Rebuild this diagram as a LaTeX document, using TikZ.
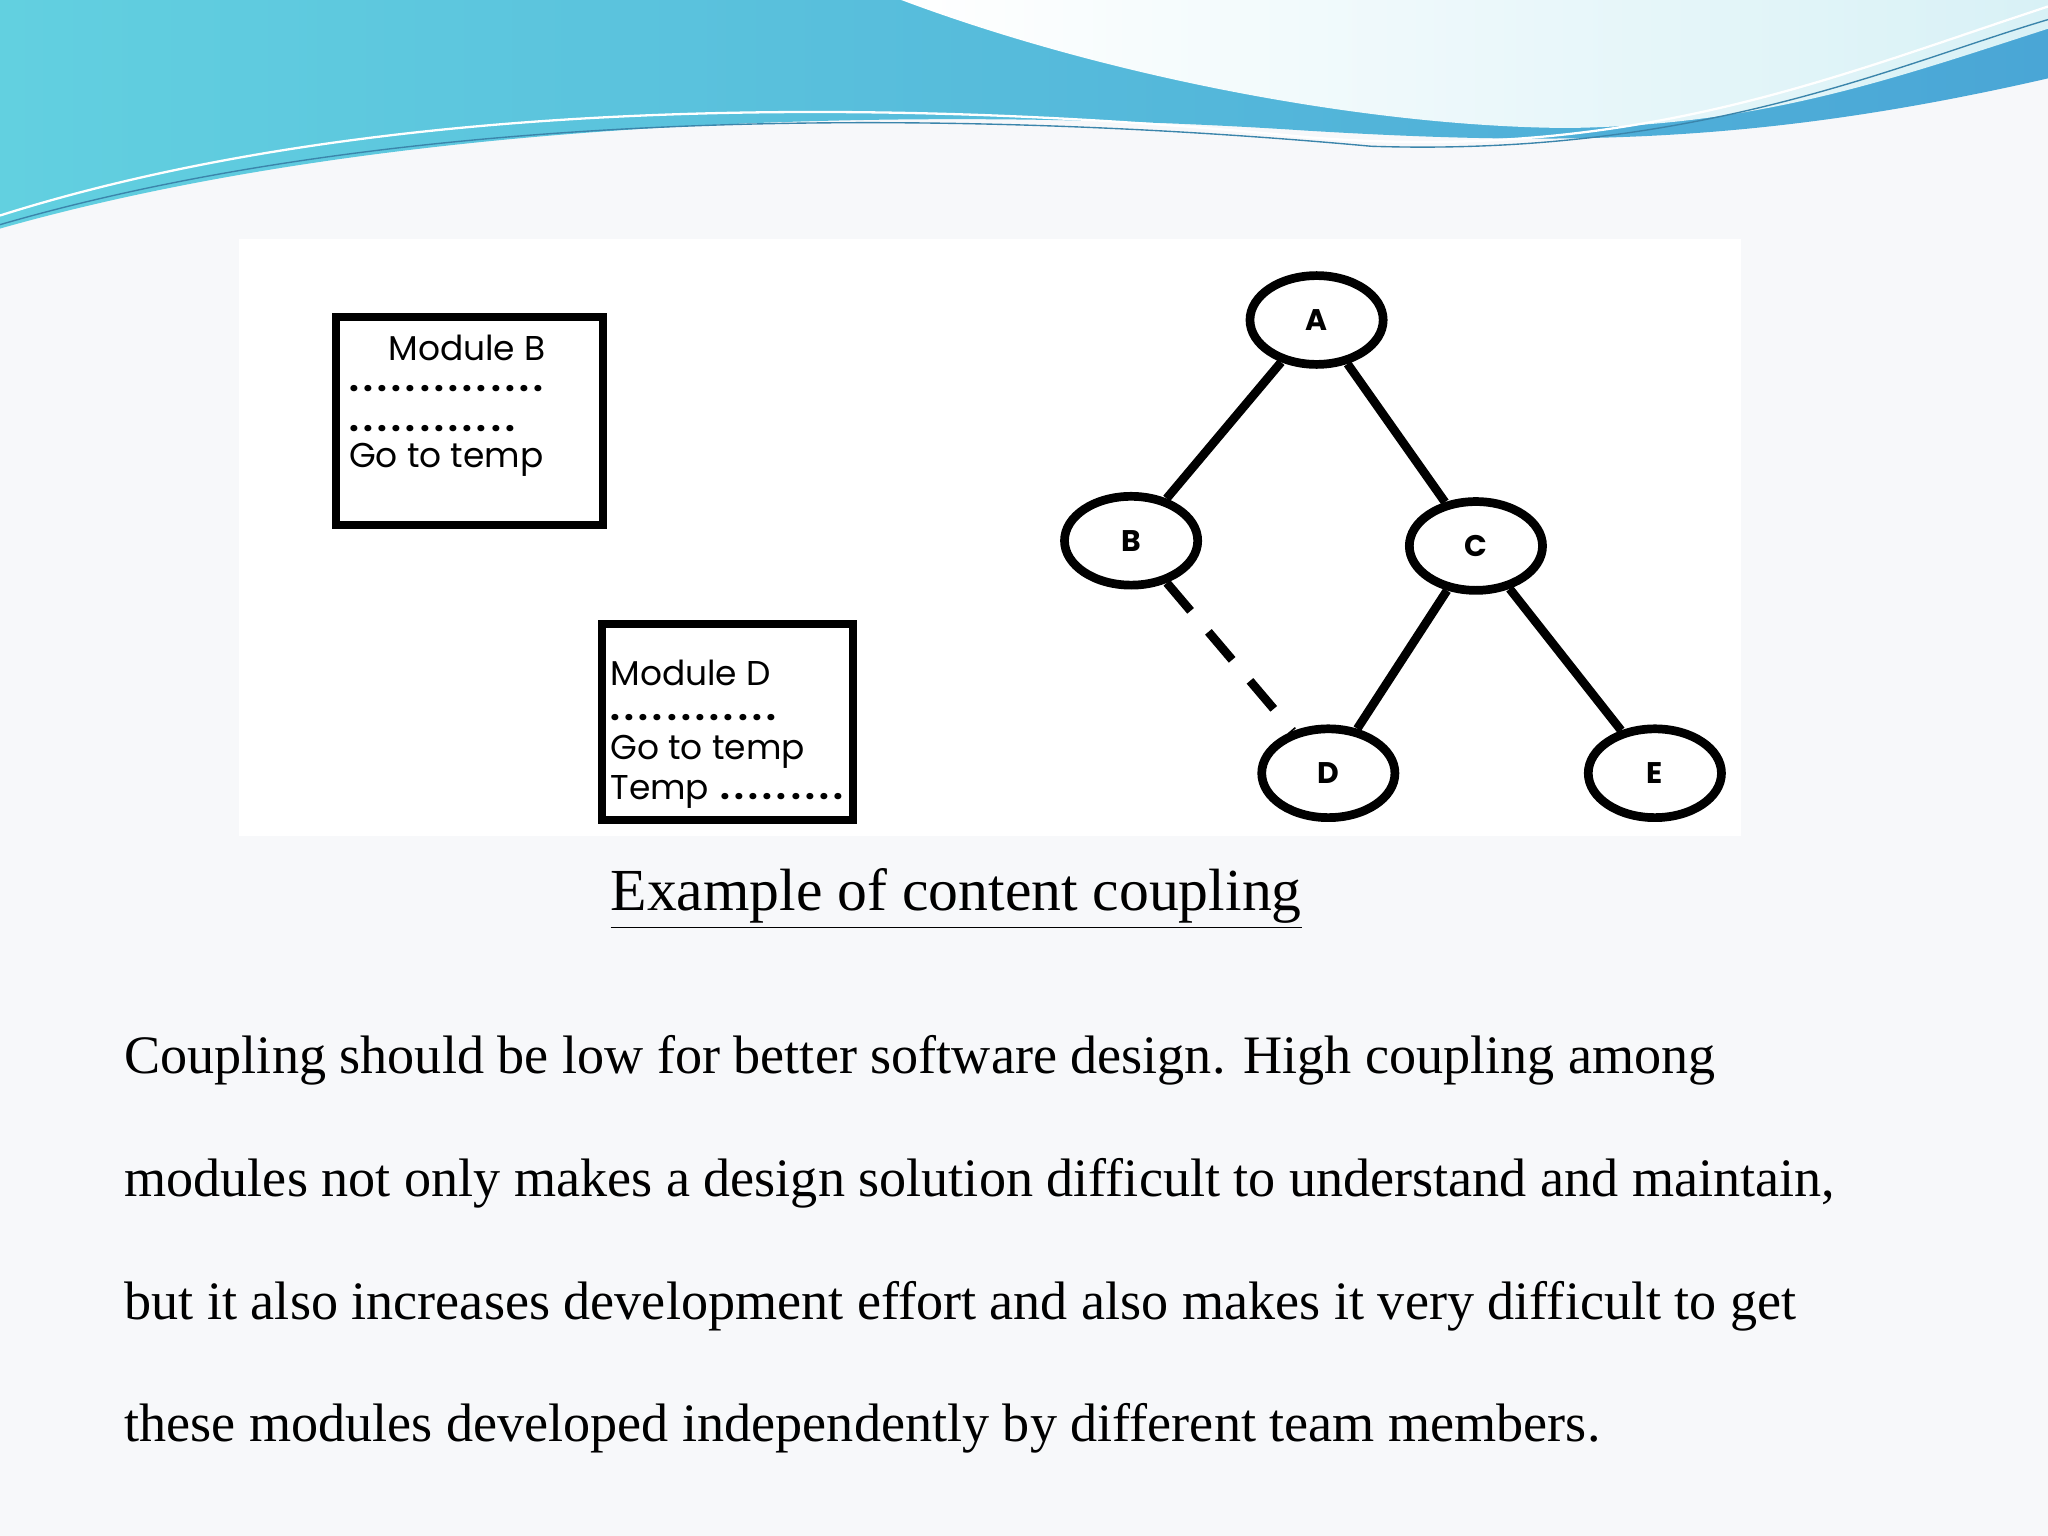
\documentclass[tikz,border=0pt]{standalone}
\usepackage{fontspec}
\setmainfont{Liberation Serif}
\newfontfamily\modfont{Poppins}
\newfontfamily\dotfont[LetterSpace=13]{Poppins}
\usetikzlibrary{shapes.geometric}
\definecolor{bg}{HTML}{F7F8FA}
\definecolor{wavea}{HTML}{62D0E0}
\definecolor{waveb}{HTML}{4AA6D6}
\definecolor{wavelight}{HTML}{D8F1F6}
\tikzset{
  modbox/.style={draw=black, line width=3.4pt, anchor=north west},
  modtxt/.style={font=\modfont\fontsize{15}{18}\selectfont, anchor=west, inner sep=0pt},
  dottxt/.style={font=\dotfont\bfseries\fontsize{15}{18}\selectfont, anchor=base west, inner sep=0pt},
  vert/.style={ellipse, draw=black, line width=3.8pt, minimum width=2.04cm, minimum height=1.36cm, font=\modfont\bfseries\fontsize{13}{15}\selectfont, fill=white},
  edge/.style={line width=3.8pt},
  body/.style={font=\fontsize{23.6}{28}\selectfont, anchor=base west, inner sep=0pt}
}
\begin{document}
\begin{tikzpicture}[x=0.02cm,y=-0.02cm]
\useasboundingbox (0,0) rectangle (1568,1176);
\fill[bg] (0,0) rectangle (1568,1176);
% header wave
\shade[left color=wavea, right color=waveb] (0,0) -- (1568,0) -- (1568,60) .. controls (1350,110) and (1200,112) .. (1000,100) .. controls (700,80) and (300,90) .. (0,175) -- cycle;
\shade[left color=white, right color=wavelight] (690,0) .. controls (850,60) and (1050,97) .. (1200,98) .. controls (1350,96) and (1450,60) .. (1568,22) -- (1568,0) -- cycle;
\draw[white, line width=1pt] (0,165) .. controls (300,70) and (700,75) .. (1000,105) .. controls (1250,125) and (1400,60) .. (1568,5);
\draw[waveb!80!black, line width=0.6pt] (0,172) .. controls (300,85) and (700,80) .. (1050,112) .. controls (1300,120) and (1450,50) .. (1568,15);
% diagram panel
\fill[white] (183,183) rectangle (1333,640);
\node[modbox, minimum width=4.1cm, minimum height=3.18cm] (mb) at (254,240) {};
\node[modtxt] (mbt) at (297,266) {Module B};
\node[dottxt] (mb1) at (267,300) {..............};
\node[dottxt] (mb2) at (267,330) {............};
\node[modtxt] (mb3) at (267,352) {Go to temp};
\node[modbox, minimum width=3.84cm, minimum height=3.0cm] (md) at (458,475) {};
\node[modtxt] (mdt) at (467,515) {Module D};
\node[dottxt] (md1) at (467,552) {............};
\node[modtxt] (md2) at (467,576) {Go to temp};
\node[modtxt] (md3) at (467,606) {Temp};
\node[dottxt] (md4) at (551,612) {.........};
% graph
\node[vert] (A) at (1008,245) {A};
\node[vert] (B) at (866,414) {B};
\node[vert] (C) at (1130,418) {C};
\node[vert] (D) at (1017,592) {D};
\node[vert] (E) at (1267,592) {E};
\draw[edge] (A) -- (B);
\draw[edge] (A) -- (C);
\draw[edge] (C) -- (D);
\draw[edge] (C) -- (E);
\draw[edge, dash pattern=on 16pt off 12pt] (B) -- (D);
% title
\node[font=\fontsize{26}{30}\selectfont, inner sep=0pt] (title) at (732,688) {\underline{Example of content coupling}};
% body
\node[body] (l1) at (95,822) {Coupling should be low for better software design. High coupling among};
\node[body] (l2) at (95,916) {modules not only makes a design solution difficult to understand and maintain,};
\node[body] (l3) at (95,1010) {but it also increases development effort and also makes it very difficult to get};
\node[body] (l4) at (95,1104) {these modules developed independently by different team members.};
\end{tikzpicture}
\end{document}
